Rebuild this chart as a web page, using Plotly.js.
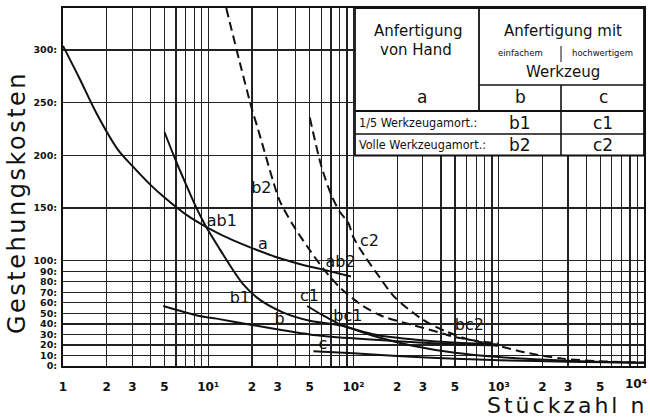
<!DOCTYPE html>
<html><head><meta charset="utf-8">
<script src="https://cdn.plot.ly/plotly-3.0.1.min.js"></script>
<style>html,body{margin:0;padding:0;background:#fff}</style>
</head><body>
<div id="chart" style="width:650px;height:417px"></div>
<script>
// Stückzahl n (x) and Gestehungskosten (y)
const aN  = [1, 1.3, 1.7, 2.4, 3, 4, 5, 7, 10, 15, 20, 30, 45, 60, 96];
const aY  = [304, 273, 240, 205, 190, 172, 160, 144, 131, 119, 112, 103, 96, 92, 85];
const bN  = [4.9, 8.7, 11.4, 20, 32.6, 50, 94, 200, 457, 1000];
const bY  = [57, 47.5, 45, 39, 34, 30, 26.5, 23.5, 21, 19.5];
const b1N = [5, 5.9, 6.7, 8.3, 9.6, 12, 15, 17.3, 22.6, 32.6, 50, 70, 85, 120, 150, 270, 457, 1000];
const b1Y = [222, 197, 179, 150, 133, 111, 90, 78, 63, 51, 43, 40, 38, 32, 29, 25, 22.5, 20.5];
const b2N = [13.3, 16.5, 19.8, 22, 27.9, 31, 38.3, 50, 61.5, 80, 116, 160, 255, 410, 480, 735, 1000];
const b2Y = [340, 288, 246, 225, 176, 157, 134, 110, 93, 75, 57, 47, 39, 31, 28, 23.5, 21.5];
const cN  = [53, 100, 200, 500, 1000, 3000, 10000];
const cY  = [14, 12, 9.5, 7, 5.5, 4, 3];
const c1N = [48, 60, 70, 82, 100, 150, 250, 500, 1000, 3000, 10000];
const c1Y = [57, 49, 44, 39, 35, 27, 19.5, 12.5, 8.5, 5, 3];
const c2N = [50, 60, 70, 80, 92, 100, 120, 150, 190, 300, 430, 625, 700, 1000, 1500, 2750, 5000, 10000];
const c2Y = [236, 190, 163, 147, 136, 122, 104, 85, 66, 44, 33, 25, 23.5, 19, 13, 7, 4.5, 3];

// curve labels in the chart
const labelText = ['ab1', 'a', 'b2', 'c2', 'ab2', 'b1', 'c1', 'b', 'bc1', 'c', 'bc2'];
const labelN    = [12.4, 23.8, 23.2, 128.8, 81.4, 16.5, 49.8, 31.0, 91.4, 61.5, 627];
const labelY    = [137, 115, 168, 118, 98, 64, 66, 44, 47, 20, 38];

// tick labels
const xLabelVals = [1, 2, 3, 5, 10, 20, 30, 50, 100, 200, 300, 500, 1000, 2000, 3000, 5000, 10000];
const xLabelText = ['1', '2', '3', '5', '10¹', '2', '3', '5', '10²', '2', '3', '5', '10³', '2', '3', '5', '10⁴'];
const yTickVals  = [0, 10, 20, 30, 40, 50, 60, 70, 80, 90, 100, 150, 200, 250, 300];
const yTickText  = ['0:', '10:', '20:', '30:', '40:', '50:', '60:', '70:', '80:', '90:', '100:', '150:', '200:', '250:', '300:'];

// table texts
const tableHead = ['Anfertigung', 'von Hand', 'Anfertigung mit', 'einfachem', 'hochwertigem', 'Werkzeug'];
const tableKeys = ['a', 'b', 'c'];
const rowLabels = ['1/5 Werkzeugamort.:', 'Volle Werkzeugamort.:'];
const rowKeys   = [['b1', 'c1'], ['b2', 'c2']];

// grid ticks: every 1..9 per decade, labelled only at xLabelVals (last label drawn separately)
const xGrid = [], xGridText = [];
for (let d = 1; d <= 1000; d *= 10) {
  for (let m = 1; m <= 9; m++) {
    const v = m * d; xGrid.push(v);
    const i = xLabelVals.indexOf(v);
    xGridText.push(i >= 0 ? xLabelText[i] : '');
  }
}
xGrid.push(10000); xGridText.push('');

const FONT = 'DejaVu Sans, Verdana, sans-serif';
const NARROW = 'Liberation Sans Narrow, DejaVu Sans Condensed, Arial Narrow, sans-serif';
const solid = {color: '#111', width: 2, shape: 'spline', smoothing: 0.8};
const dashed = {color: '#111', width: 2, dash: '9px,5px', shape: 'spline', smoothing: 0.8};
function tr(x, y, line) { return {x: x, y: y, mode: 'lines', line: line, hoverinfo: 'skip', showlegend: false}; }

const traces = [
  tr(aN, aY, solid), tr(bN, bY, solid), tr(b1N, b1Y, solid), tr(b2N, b2Y, dashed),
  tr(cN, cY, solid), tr(c1N, c1Y, solid), tr(c2N, c2Y, dashed),
  {x: labelN, y: labelY, text: labelText, mode: 'text', textposition: 'middle center',
   textfont: {family: FONT, size: 16, color: '#111'}, hoverinfo: 'skip', showlegend: false, cliponaxis: false}
];

// plot area in pixels
const L = 63, R = 644, T = 8, B = 366, W = 650, H = 417;
const px = v => (v - L) / (R - L);
const py = v => (B - v) / (B - T);

const tL = 355, tR = 644, tT = T, tB = 155.5, c1x = 479, c2x = 561;
const ln = {color: '#111', width: 1.6};
const shapes = [
  {type: 'rect', xref: 'paper', yref: 'paper', x0: px(tL), x1: px(tR), y0: py(tB), y1: py(tT), fillcolor: '#fff', line: {color: '#111', width: 1.8}, layer: 'above'},
  {type: 'line', xref: 'paper', yref: 'paper', x0: px(c1x), x1: px(tR), y0: py(85), y1: py(85), line: ln, layer: 'above'},
  {type: 'line', xref: 'paper', yref: 'paper', x0: px(tL), x1: px(tR), y0: py(111), y1: py(111), line: {color: '#111', width: 1.8}, layer: 'above'},
  {type: 'line', xref: 'paper', yref: 'paper', x0: px(tL), x1: px(tR), y0: py(134), y1: py(134), line: ln, layer: 'above'},
  {type: 'line', xref: 'paper', yref: 'paper', x0: px(c1x), x1: px(c1x), y0: py(111), y1: py(tT), line: {color: '#111', width: 1.8}, layer: 'above'},
  {type: 'line', xref: 'paper', yref: 'paper', x0: px(c2x), x1: px(c2x), y0: py(tB), y1: py(85), line: ln, layer: 'above'},
  {type: 'line', xref: 'paper', yref: 'paper', x0: px(c2x), x1: px(c2x), y0: py(62), y1: py(46), line: {color: '#111', width: 1}, layer: 'above'}
];

function ann(text, x, y, size, opts) {
  return Object.assign({text: text, xref: 'paper', yref: 'paper', x: px(x), y: py(y), showarrow: false,
    xanchor: 'center', yanchor: 'middle', font: {family: FONT, size: size, color: '#111'}}, opts || {});
}
const annotations = [
  ann(tableHead[0], 418, 31, 15), ann(tableHead[1], 416, 50, 15),
  ann(tableHead[2], 563, 31, 15),
  ann(tableHead[3], 520, 53, 8.5), ann(tableHead[4], 602, 53, 8.5),
  ann(tableHead[5], 563, 72, 15),
  ann(tableKeys[0], 422, 97, 17), ann(tableKeys[1], 520, 97, 17), ann(tableKeys[2], 603, 97, 17),
  ann(rowLabels[0], 357, 123, 12.5, {xanchor: 'left', font: {family: NARROW, size: 12.5, color: '#111'}}),
  ann(rowLabels[1], 357, 145, 12.5, {xanchor: 'left', font: {family: NARROW, size: 12.5, color: '#111'}}),
  ann(rowKeys[0][0], 520, 123, 17), ann(rowKeys[0][1], 603, 123, 17),
  ann(rowKeys[1][0], 520, 145, 17), ann(rowKeys[1][1], 603, 145, 17),
  ann(xLabelText[xLabelText.length - 1], 649, 384, 12, {xanchor: 'right', font: {family: FONT, size: 12, color: '#111', weight: 'bold'}}),
  ann('<span style="letter-spacing:2.5px">Gestehungskosten</span>', 17, 203, 24, {textangle: -90}),
  ann('<span style="letter-spacing:3px">Stückzahl n</span>', 649, 405, 22, {xanchor: 'right'})
];

const layout = {
  width: W, height: H,
  margin: {l: L, r: W - R, t: T, b: H - B, pad: 0},
  paper_bgcolor: '#fff', plot_bgcolor: '#fff',
  showlegend: false,
  xaxis: {type: 'log', range: [0, 4], tickmode: 'array', tickvals: xGrid, ticktext: xGridText,
    showgrid: true, gridcolor: '#222', gridwidth: 1.3, showline: true, linecolor: '#111', linewidth: 2,
    mirror: true, ticks: '', zeroline: false, fixedrange: true, ticklabelstandoff: 9,
    tickfont: {family: FONT, size: 12, color: '#111', weight: 'bold'}},
  yaxis: {range: [0, 340], tickmode: 'array', tickvals: yTickVals, ticktext: yTickText,
    showgrid: true, gridcolor: '#222', gridwidth: 1.3, showline: true, linecolor: '#111', linewidth: 2,
    mirror: true, ticks: '', zeroline: false, fixedrange: true, ticklabelstandoff: 2,
    tickfont: {family: FONT, size: 9.5, color: '#111', weight: 'bold'}},
  shapes: shapes,
  annotations: annotations
};

Plotly.newPlot('chart', traces, layout, {staticPlot: true, displayModeBar: false});
</script>
</body></html>
